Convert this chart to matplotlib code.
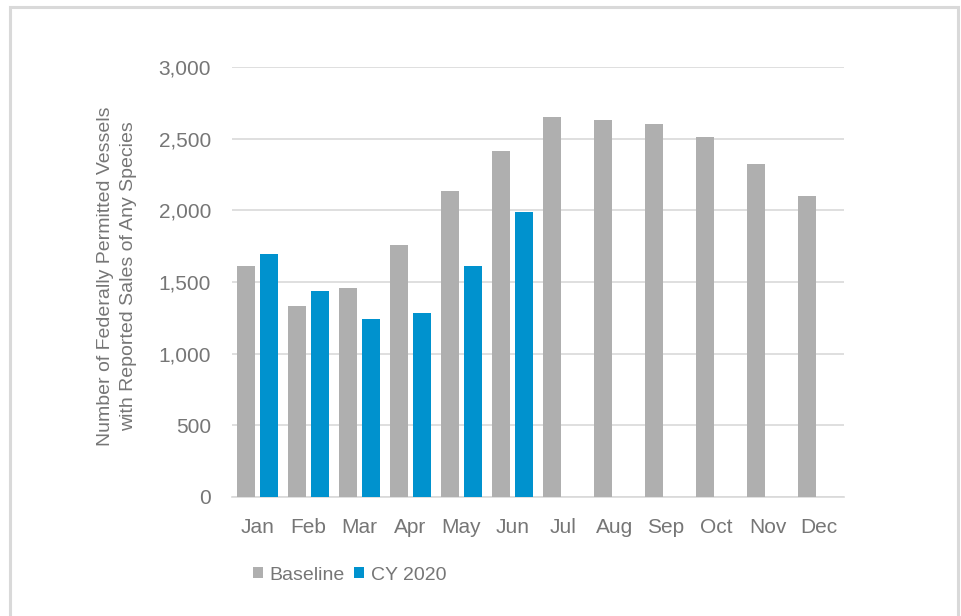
import matplotlib
matplotlib.use("Agg")
import matplotlib.pyplot as plt
from matplotlib.patches import Rectangle
from matplotlib import font_manager
import numpy as np

months = ["Jan", "Feb", "Mar", "Apr", "May", "Jun", "Jul", "Aug", "Sep", "Oct", "Nov", "Dec"]
baseline = [1615, 1335, 1460, 1760, 2135, 2415, 2650, 2630, 2600, 2510, 2325, 2100]
cy2020 = [1695, 1435, 1240, 1285, 1615, 1990]
series_names = ["Baseline", "CY 2020"]
y_ticks = [0, 500, 1000, 1500, 2000, 2500, 3000]
y_label = "Number of Federally Permitted Vessels\nwith Reported Sales of Any Species"

avail = {f.name for f in font_manager.fontManager.ttflist}
fam = "Liberation Sans Narrow" if "Liberation Sans Narrow" in avail else "Liberation Sans"
plt.rcParams["font.family"] = [fam, "DejaVu Sans"]

text_color = "#767676"
grid_color = "#D9D9D9"
c_base = "#AFAFAF"
c_cy = "#0092CE"

fig = plt.figure(figsize=(9.61, 6.16), dpi=100)
W, H = 961, 616
ax = fig.add_axes([232 / W, 1 - 497 / H, (844 - 232) / W, (497 - 67) / H])

x = np.arange(len(months))
bw = 0.345
off = 0.22
ax.bar(x - off, baseline, width=bw, color=c_base, label=series_names[0], zorder=3)
ax.bar(x[:len(cy2020)] + off, cy2020, width=bw, color=c_cy, label=series_names[1], zorder=3)

ax.set_xlim(-0.5, len(months) - 0.5)
ax.set_ylim(0, 3000)
ax.set_yticks(y_ticks)
ax.set_yticklabels([f"{v:,}" for v in y_ticks])
ax.set_xticks(x)
ax.set_xticklabels(months)
ax.yaxis.grid(True, color=grid_color, linewidth=1.2, zorder=0)
ax.set_axisbelow(True)
for s in ["top", "right", "left"]:
    ax.spines[s].set_visible(False)
ax.spines["bottom"].set_color(grid_color)
ax.spines["bottom"].set_linewidth(1.2)
ax.tick_params(axis="both", length=0, labelsize=15, colors=text_color)
ax.tick_params(axis="y", pad=15)
ax.tick_params(axis="x", pad=15)

fig.text(117 / W, 1 - 276 / H, y_label, rotation=90, ha="center", va="center",
         fontsize=14, color=text_color, linespacing=1.4, multialignment="center")

leg = fig.legend(loc="upper left", bbox_to_anchor=(245 / W, 1 - 559 / H), ncol=2, frameon=False,
                 fontsize=14, handlelength=0.5, handleheight=0.5, handletextpad=0.35,
                 columnspacing=0.5, labelcolor=text_color, borderaxespad=0)

# outer frame
fig.patches.append(Rectangle((10 / W, -0.05), (958 - 10) / W, 1.05 - 7 / H,
                             transform=fig.transFigure, fill=False,
                             edgecolor="#D9D9D9", linewidth=2.2))

fig.savefig("out.png", dpi=100)
